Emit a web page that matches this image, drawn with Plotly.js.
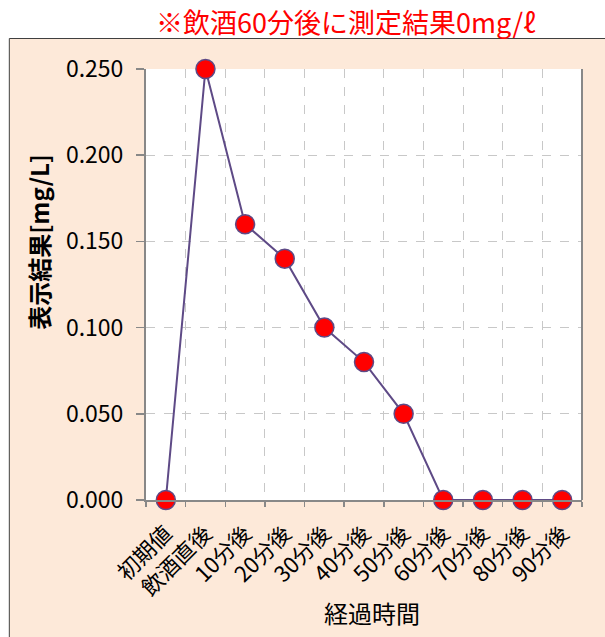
<!DOCTYPE html>
<html><head><meta charset="utf-8">
<script src="https://cdn.plot.ly/plotly-3.0.1.min.js"></script>
<style>html,body{margin:0;padding:0;background:#fff}#chart{width:605px;height:637px}</style>
</head><body><div id="chart"></div>
<script>
const categories = ["初期値","飲酒直後","10分後","20分後","30分後","40分後","50分後","60分後","70分後","80分後","90分後"];
const values = [0, 0.25, 0.16, 0.14, 0.10, 0.08, 0.05, 0, 0, 0, 0];
const yTicks = [0, 0.05, 0.10, 0.15, 0.20, 0.25];
const chartTitle = '※飲酒60分後に測定結果0mg/ℓ';
const xTitle = '経過時間';
const yTitle = '表示結果[mg/L]';

const L=145.5, R=582.5, T=69, B=500, W=605, H=637;
const pw=R-L, ph=B-T;
const px = x => (x-L)/pw, py = y => (B-y)/ph;
const FONT = '"Noto Sans CJK JP", "Noto Sans", sans-serif';

const trace = {
  x: categories, y: values, type: 'scatter', mode: 'lines+markers',
  line: {color: '#5E4A86', width: 2},
  marker: {color: '#FF0000', size: 19, line: {color: '#5E4A86', width: 1.5}},
  cliponaxis: false, hoverinfo: 'none'
};

const layout = {
  width: W, height: H,
  margin: {l: L, r: W-R, t: T, b: H-B},
  paper_bgcolor: '#FFFFFF', plot_bgcolor: '#FFFFFF',
  showlegend: false,
  font: {family: FONT, color: '#000'},
  xaxis: {
    type: 'category', tickson: 'boundaries', tickangle: -45,
    tickfont: {size: 22}, ticks: 'outside', ticklen: 5, tickcolor: '#888', tickwidth: 1.5,
    ticklabelstandoff: 10, ticklabelshift: 0,
    showgrid: true, gridcolor: '#C8C8C8', griddash: 'dash', gridwidth: 1,
    showline: true, linecolor: '#888', linewidth: 2,
    range: [-0.5, 10.5], automargin: false
  },
  yaxis: {
    range: [0, 0.25], tickvals: yTicks, tickformat: '.3f',
    tickfont: {size: 23}, ticks: 'outside', ticklen: 8, tickcolor: '#888', tickwidth: 1.5,
    ticklabelstandoff: 8,
    showgrid: true, gridcolor: '#C8C8C8', griddash: 'dash', gridwidth: 1,
    showline: true, linecolor: '#888', linewidth: 2, zeroline: false,
    automargin: false
  },
  annotations: [
    {text: chartTitle, xref: 'paper', yref: 'paper', x: px(346), y: py(21), xanchor: 'center', yanchor: 'middle',
     showarrow: false, font: {size: 27, color: '#FF0000'}},
    {text: '<b>' + yTitle + '</b>', xref: 'paper', yref: 'paper', x: px(37), y: py(242), xanchor: 'center', yanchor: 'middle',
     textangle: -90, showarrow: false, font: {size: 24}},
    {text: xTitle, xref: 'paper', yref: 'paper', x: px(372), y: py(612), xanchor: 'center', yanchor: 'middle',
     showarrow: false, font: {size: 24}}
  ],
  shapes: [
    {type: 'rect', xref: 'paper', yref: 'paper', layer: 'below',
     x0: px(8.5), x1: px(612), y0: py(645), y1: py(38.5),
     fillcolor: '#FDE9D9', line: {color: '#404040', width: 1}},
    {type: 'rect', xref: 'paper', yref: 'paper', layer: 'below',
     x0: 0, x1: 1, y0: 0, y1: 1, fillcolor: '#FFFFFF', line: {width: 0}},
    {type: 'line', xref: 'paper', yref: 'paper', layer: 'above',
     x0: 1, x1: 1, y0: 0, y1: 1, line: {color: '#888', width: 2}}
  ]
};

Plotly.newPlot('chart', [trace], layout, {staticPlot: true});
</script></body></html>
